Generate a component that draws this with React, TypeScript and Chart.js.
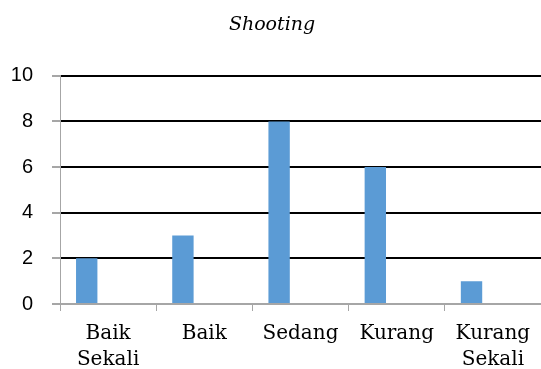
import React, { useEffect, useRef } from "react";
import { Chart, registerables } from "chart.js";

Chart.register(...registerables);

const categories: string[][] = [["Baik", "Sekali"], ["Baik"], ["Sedang"], ["Kurang"], ["Kurang", "Sekali"]];
const seriesValues: number[] = [2, 3, 8, 6, 1];
const emptySeries: (number | null)[] = [null, null, null, null, null];
const yTicks: number[] = [0, 2, 4, 6, 8, 10];
const titleText = "Shooting";

export default function App() {
  const ref = useRef<HTMLCanvasElement | null>(null);

  useEffect(() => {
    if (!ref.current) return;
    const grey = "#a6a6a6";
    const chart = new Chart(ref.current, {
      type: "bar",
      data: {
        labels: categories,
        datasets: [
          { data: seriesValues, backgroundColor: "#5B9BD5", borderWidth: 0, categoryPercentage: 3 / 4.5, barPercentage: 1 },
          { data: emptySeries, backgroundColor: "#ED7D31", borderWidth: 0, categoryPercentage: 3 / 4.5, barPercentage: 1 },
          { data: emptySeries, backgroundColor: "#A5A5A5", borderWidth: 0, categoryPercentage: 3 / 4.5, barPercentage: 1 },
        ],
      },
      options: {
        responsive: false,
        animation: false,
        devicePixelRatio: 1,
        layout: { padding: { left: 0, right: -3, top: 0, bottom: -14 } },
        plugins: {
          legend: { display: false },
          tooltip: { enabled: false },
          title: {
            display: true,
            text: titleText,
            color: "#000",
            font: { family: "'DejaVu Serif'", size: 19, style: "italic", weight: "normal" },
            padding: { top: 14, bottom: 39 },
          },
        },
        scales: {
          x: {
            grid: { display: true, drawOnChartArea: false, offset: true, tickLength: 7, tickColor: grey },
            border: { color: grey, width: 1 },
            ticks: {
              color: "#000",
              font: { family: "'DejaVu Serif'", size: 20, lineHeight: "26px" },
              padding: 10,
              maxRotation: 0,
              autoSkip: false,
            },
          },
          y: {
            min: 0,
            max: 10,
            afterFit: (scale: any) => { scale.width = 60; },
            afterBuildTicks: (scale: any) => { scale.ticks = yTicks.map((v) => ({ value: v })); },
            grid: {
              color: (ctx: any) => (ctx.tick && ctx.tick.value === 0 ? grey : "#000"),
              lineWidth: 2,
              tickLength: 8,
              tickColor: grey,
            },
            border: { color: grey, width: 1 },
            ticks: {
              color: "#000",
              font: { family: "'Liberation Sans'", size: 20 },
              padding: 19,
            },
          },
        },
      },
    });
    return () => chart.destroy();
  }, []);

  return (
    <div style={{ position: "fixed", left: 0, top: 0, width: 541, height: 369, background: "#fff" }}>
      <canvas ref={ref} width={541} height={369} style={{ display: "block" }} />
    </div>
  );
}
